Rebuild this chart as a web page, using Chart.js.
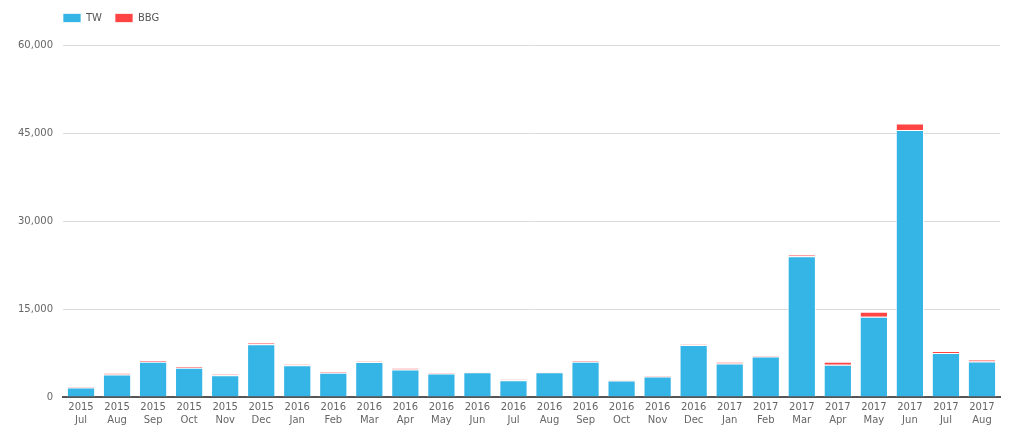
<!DOCTYPE html>
<html>
<head>
<meta charset="utf-8">
<script src="https://cdn.jsdelivr.net/npm/chart.js@4/dist/chart.umd.min.js"></script>
<style>
  html, body { margin: 0; padding: 0; background: #fff; }
  #wrap { width: 1024px; height: 431px; position: relative; }
</style>
</head>
<body>
<div id="wrap"><canvas id="myChart"></canvas></div>
<script>
// Months shown on the x axis (year, month)
var years = ['2015','2015','2015','2015','2015','2015',
             '2016','2016','2016','2016','2016','2016','2016','2016','2016','2016','2016','2016',
             '2017','2017','2017','2017','2017','2017','2017','2017'];
var months = ['Jul','Aug','Sep','Oct','Nov','Dec',
              'Jan','Feb','Mar','Apr','May','Jun','Jul','Aug','Sep','Oct','Nov','Dec',
              'Jan','Feb','Mar','Apr','May','Jun','Jul','Aug'];

// Values
var twData  = [1600, 3850, 6000, 5000, 3700, 9000,
               5400, 4150, 5950, 4700, 4000, 4200, 2850, 4200, 6000, 2800, 3500, 8850,
               5700, 6900, 24000, 5500, 13700, 45500, 7500, 6050];
var bbgData = [200, 200, 250, 200, 200, 200,
               200, 150, 150, 200, 150, 150, 150, 150, 200, 150, 150, 150,
               300, 150, 200, 500, 850, 1100, 350, 350];

var yTicks = [0, 15000, 30000, 45000, 60000];

var labels = [];
for (var i = 0; i < years.length; i++) {
    labels.push([years[i], months[i]]);
}

Chart.defaults.font.family = 'Verdana, "DejaVu Sans", sans-serif';
Chart.defaults.font.size = 10;
Chart.defaults.color = '#666';

// more room under the legend, and line the legend up with the plot's left edge
var legendTweak = {
    id: 'legendTweak',
    beforeInit: function(chart) {
        var fit = chart.legend.fit;
        chart.legend.fit = function() {
            fit.bind(chart.legend)();
            this.height += 12;
        };
    },
    afterLayout: function(chart) {
        var lg = chart.legend;
        lg.left = chart.chartArea.left - lg.options.labels.padding;
    }
};

var ctx = document.getElementById('myChart').getContext('2d');
var myChart = new Chart(ctx, {
    type: 'bar',
    data: {
        labels: labels,
        datasets: [{
            label: 'TW',
            data: twData,
            backgroundColor: '#35b5e5',
            borderColor: 'rgba(255,255,255,0.7)',
            borderWidth: 1
        },
        {
            label: 'BBG',
            data: bbgData,
            backgroundColor: '#ff4444',
            borderColor: 'rgba(255,255,255,0.7)',
            borderWidth: 1
        }]
    },
    plugins: [legendTweak],
    options: {
        responsive: true,
        maintainAspectRatio: false,
        animation: false,
        layout: { padding: { left: 8, right: 24, top: 0, bottom: 0 } },
        datasets: {
            bar: { barPercentage: 0.87, categoryPercentage: 0.9 }
        },
        plugins: {
            legend: {
                align: 'start',
                labels: {
                    boxWidth: 18,
                    boxHeight: 9,
                    padding: 13,
                    color: '#555',
                    font: { size: 10 }
                }
            },
            tooltip: { enabled: false }
        },
        scales: {
            x: {
                stacked: true,
                grid: { display: false, drawTicks: false },
                border: { color: '#555', width: 2 },
                ticks: {
                    color: '#666',
                    padding: 4,
                    maxRotation: 0,
                    autoSkip: false,
                    font: { size: 10, lineHeight: 1.3 }
                }
            },
            y: {
                stacked: true,
                min: 0,
                max: 60000,
                afterBuildTicks: function(axis) {
                    axis.ticks = yTicks.map(function(v) { return { value: v }; });
                },
                grid: { color: '#dcdcdc', drawTicks: false },
                border: { display: false },
                ticks: {
                    color: '#666',
                    padding: 10,
                    callback: function(v) { return v.toLocaleString('en-US'); }
                }
            }
        }
    }
});
</script>
</body>
</html>
